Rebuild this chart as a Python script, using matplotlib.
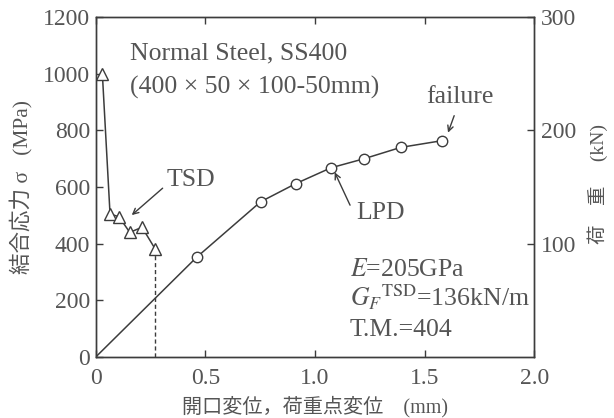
import matplotlib.pyplot as plt

plt.rcParams['font.family'] = ['Liberation Serif', 'Noto Sans CJK JP']
plt.rcParams['mathtext.fontset'] = 'stix'

ink = "#3c3c3c"
txt = "#555555"

# TSD: opening displacement (mm) vs bond stress (MPa)
tsd_x = [0.03, 0.065, 0.106, 0.155, 0.211, 0.272]
tsd_sigma = [1000, 505, 495, 440, 458, 380]

# LPD: load point displacement (mm) vs load (kN)
lpd_x = [0.0, 0.46, 0.752, 0.912, 1.073, 1.224, 1.391, 1.581]
lpd_load = [0, 88, 137, 153, 167, 175, 185, 191]

xticks = [0, 0.5, 1.0, 1.5, 2.0]
xticklabels = ["0", "0.5", "1.0", "1.5", "2.0"]
yticks = [0, 200, 400, 600, 800, 1000, 1200]
y2ticks = [100, 200, 300]

fig = plt.figure(figsize=(6.14, 4.18), dpi=100)
ax = fig.add_axes([0.156, 0.146, 0.714, 0.813])
ax2 = ax.twinx()

ax.plot(tsd_x, tsd_sigma, color=ink, lw=1.1, marker='^', ms=8,
        mfc='white', mec=ink, mew=1.0, zorder=3)
ax.plot([tsd_x[-1], tsd_x[-1]], [0, tsd_sigma[-1]], color=ink, lw=1.0, ls=(0, (3, 2)))
ax2.plot(lpd_x[1:], lpd_load[1:], ls='none', marker='o', ms=7.5,
         mfc='white', mec=ink, mew=1.0, zorder=4)
ax2.plot(lpd_x, lpd_load, color=ink, lw=1.1, zorder=3)

ax.set_xlim(0, 2.0)
ax.set_ylim(0, 1200)
ax2.set_ylim(0, 300)

ax.set_xticks(xticks)
ax.set_xticklabels(xticklabels)
ax.set_yticks(yticks)
ax2.set_yticks(y2ticks)

for a in (ax, ax2):
    for s in a.spines.values():
        s.set_color(ink)
        s.set_linewidth(1.0)
ax.tick_params(direction='in', length=5, width=1.0, color=ink, labelcolor=txt,
               labelsize=17, top=True, pad=4)
ax.tick_params(axis='x', pad=8)
ax2.tick_params(direction='in', length=5, width=1.0, color=ink, labelcolor=txt,
                labelsize=17, pad=5)

ax.set_xlabel("開口変位，荷重点変位　(mm)", fontsize=14.5, color=txt, labelpad=5)
ax.set_ylabel("結合応力 σ   (MPa)", fontsize=15.5, color=txt, labelpad=7)
ax2.set_ylabel("荷　重　 (kN)", fontsize=14, color=txt, rotation=90, va='center')
ax2.yaxis.set_label_coords(1.145, 0.51)

ax.text(0.155, 1073, "Normal Steel, SS400", fontsize=18.5, color=txt, va='center')
ax.text(0.155, 953, "(400 × 50 × 100-50mm)", fontsize=18.5, color=txt, va='center')
ax.text(1.16, 307, "$E$=205GPa", fontsize=18.5, color=txt, va='center')
ax.text(1.16, 212, "$G_F$$^{\\rm TSD}$=136kN/m", fontsize=18.5, color=txt, va='center')
ax.text(1.16, 95, "T.M.=404", fontsize=18.5, color=txt, va='center')

arrow = dict(arrowstyle='->', color=ink, lw=1.0, shrinkA=0, shrinkB=0)
ax.annotate("", xy=(0.164, 501), xytext=(0.305, 596), arrowprops=arrow)
ax.text(0.324, 625, "TSD", fontsize=18.5, color=txt, va='center')
ax2.annotate("", xy=(1.09, 163), xytext=(1.16, 134), arrowprops=arrow)
ax.text(1.19, 508, "LPD", fontsize=18.5, color=txt, va='center')
ax2.annotate("", xy=(1.607, 198), xytext=(1.635, 213), arrowprops=arrow)
ax.text(1.66, 918, "failure", fontsize=18.5, color=txt, va='center', ha='center')

fig.savefig("out.png", dpi=100)
